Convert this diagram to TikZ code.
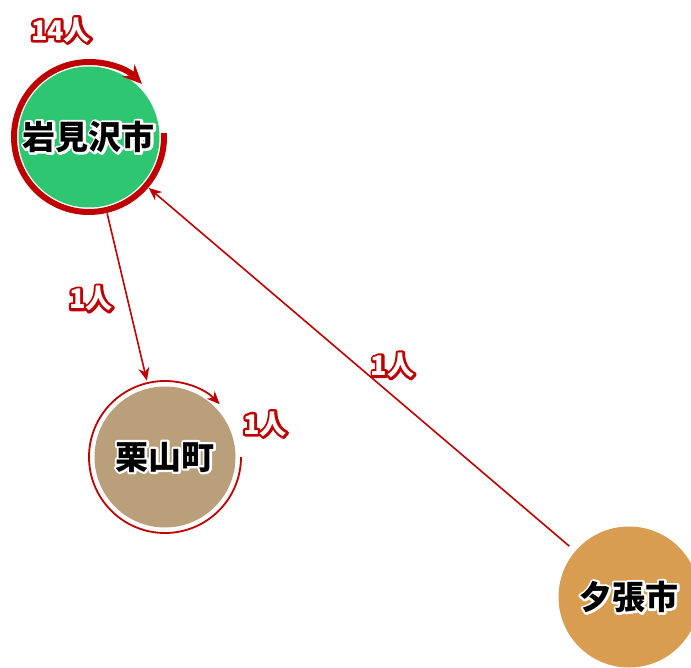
\documentclass[tikz,border=0pt]{standalone}
\usepackage{fontspec}
\setmainfont{Noto Sans CJK JP}
\usetikzlibrary{arrows.meta,positioning}
\definecolor{flowred}{HTML}{C00000}
\definecolor{citygreen}{HTML}{2EC670}
\definecolor{citytan}{HTML}{B9A07A}
\definecolor{cityorange}{HTML}{D99D51}
% halo behind a text: stroke colour (rgb), stroke width, text
\newcommand{\halo}[3]{%
  \makebox[0pt][l]{\special{pdf:literal direct 1 Tr #2 w 1 j 1 J #1 RG}#3%
    \special{pdf:literal direct 0 Tr}}#3}
\newcommand{\citytext}[1]{\halo{1 1 1}{4.5}{#1}}
\newcommand{\countlbl}[1]{\halo{0.753 0 0}{5}{#1}}
\tikzset{
  >=Stealth,
  x=1pt,y=1pt,
  city/.style={circle,minimum size=141pt,inner sep=0pt,outer sep=8pt,
               font=\bfseries\fontsize{33}{36}\selectfont},
  flow/.style={-{Stealth[length=13pt,width=11pt]},line width=1.6pt,draw=flowred},
  loopthick/.style={-{Stealth[length=19pt,width=17pt]},line width=6pt,draw=flowred},
  loopthin/.style={-{Stealth[length=13pt,width=11pt]},line width=1.8pt,draw=flowred},
  countlbl/.style={inner sep=0pt,text=white,font=\bfseries\fontsize{27}{29}\selectfont},
}
\begin{document}
\begin{tikzpicture}
  \useasboundingbox (0,0) rectangle (691,-668);

  % towns
  \node[city,fill=citygreen] (iwa) at (89,-137) {\citytext{岩見沢市}};
  \node[city,fill=citytan] (kuri) at (165,-457) {\citytext{栗山町}};
  \node[city,fill=cityorange] (yuba) at (629,-597) {\citytext{夕張市}};

  % moves within the same town
  \draw[loopthick] ([shift={(3:75)}]iwa.center) arc[start angle=3,end angle=-315,radius=75];
  \node[countlbl] (iwaloop) at (61,-30) {\countlbl{14人}};
  \draw[loopthin] ([shift={(0:76)}]kuri.center) arc[start angle=0,end angle=-316,radius=76];
  \node[countlbl] (kuriloop) at (265,-424) {\countlbl{1人}};

  % moves between towns
  \draw[flow] (iwa) -- node[countlbl,pos=0.51,left=14pt]{\countlbl{1人}} (kuri);
  \draw[flow] (yuba) -- node[countlbl,pos=0.42,above=17pt]{\countlbl{1人}} (iwa);
\end{tikzpicture}
\end{document}
